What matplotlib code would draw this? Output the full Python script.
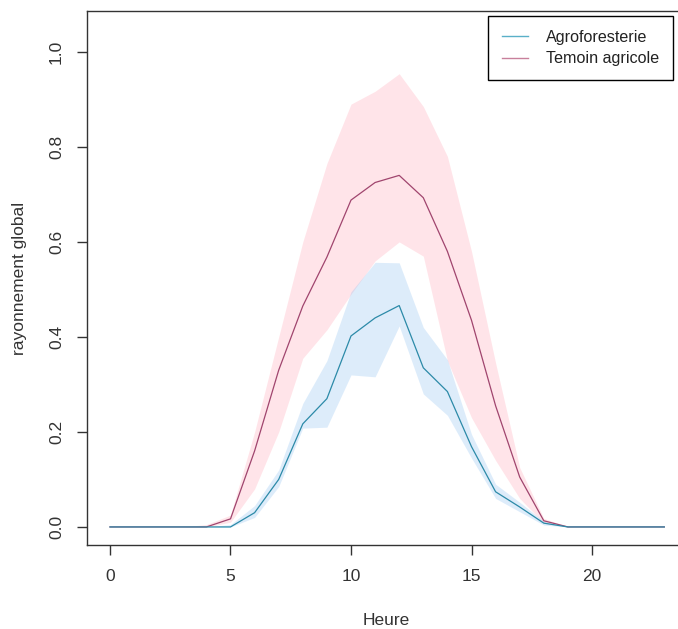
import matplotlib
matplotlib.use("Agg")
import matplotlib.pyplot as plt
import numpy as np
from matplotlib.lines import Line2D

hours = list(range(24))

agro_mean = [0, 0, 0, 0, 0, 0, 0.03, 0.10, 0.217, 0.27, 0.402, 0.44, 0.466, 0.335,
             0.285, 0.169, 0.074, 0.042, 0.008, 0, 0, 0, 0, 0]
agro_low = [0, 0, 0, 0, 0, 0, 0.02, 0.085, 0.208, 0.21, 0.32, 0.316, 0.423, 0.28,
            0.235, 0.145, 0.06, 0.032, 0.004, 0, 0, 0, 0, 0]
agro_high = [0, 0, 0, 0, 0, 0.005, 0.045, 0.12, 0.26, 0.35, 0.495, 0.557, 0.556, 0.42,
             0.352, 0.195, 0.09, 0.052, 0.012, 0, 0, 0, 0, 0]

temoin_mean = [0, 0, 0, 0, 0, 0.017, 0.16, 0.33, 0.465, 0.568, 0.688, 0.725, 0.74, 0.693,
               0.58, 0.435, 0.255, 0.105, 0.013, 0, 0, 0, 0, 0]
temoin_low = [0, 0, 0, 0, 0, 0.01, 0.08, 0.2, 0.355, 0.415, 0.49, 0.56, 0.60, 0.57,
              0.35, 0.23, 0.14, 0.06, 0.008, 0, 0, 0, 0, 0]
temoin_high = [0, 0, 0, 0, 0.005, 0.025, 0.2, 0.4, 0.6, 0.765, 0.89, 0.917, 0.954, 0.885,
               0.78, 0.58, 0.345, 0.125, 0.018, 0, 0, 0, 0, 0]

series_names = ["Agroforesterie", "Temoin agricole"]
xticks = [0, 5, 10, 15, 20]
yticks = [0.0, 0.2, 0.4, 0.6, 0.8, 1.0]

plt.rcParams['font.family'] = ['Liberation Sans', 'DejaVu Sans']

W, H = 678, 629
fig = plt.figure(figsize=(W / 100, H / 100), dpi=100)
left, right, top, bottom = 87, 686, 11, 545
ax = fig.add_axes([left / W, 1 - bottom / H, (right - left) / W, (bottom - top) / H])

blue_line = "#2c8aa8"
red_line = "#a0456e"

ax.fill_between(hours, temoin_low, temoin_high, color="#ffc0cb", alpha=0.42, lw=0)
ax.fill_between(hours, agro_low, agro_high, color="#87bdf0", alpha=0.28, lw=0)
ax.plot(hours, temoin_mean, color=red_line, lw=0.9)
ax.plot(hours, agro_mean, color=blue_line, lw=0.9)

ax.set_xlim(-0.954, 23.9)
ax.set_ylim(-0.038, 1.086)
ax.set_xticks(xticks)
ax.set_xticklabels([str(t) for t in xticks])
ax.set_yticks(yticks)
ax.set_yticklabels([f"{t:.1f}" for t in yticks], rotation=90, va='center')

fs = 12.5
for s in ax.spines.values():
    s.set_color("#333333")
    s.set_linewidth(1.0)
ax.tick_params(axis='both', direction='out', length=7, width=1, color="#333333",
               labelsize=fs, labelcolor="#333333")
ax.tick_params(axis='x', pad=10)
ax.tick_params(axis='y', pad=9.5)

ax.set_xlabel("Heure", fontsize=fs, color="#333333", labelpad=21)
ax.set_ylabel("rayonnement global", fontsize=fs, color="#333333", labelpad=16)

lfs = 11.6
handles = [Line2D([], [], color="#5ab0c8", lw=1), Line2D([], [], color="#c8809c", lw=1)]
leg = ax.legend(handles, series_names, loc='upper right',
                bbox_to_anchor=(673 / W, 1 - 16 / H), bbox_transform=fig.transFigure,
                borderaxespad=0, fancybox=False, framealpha=1, edgecolor="black",
                fontsize=lfs, handlelength=1.6, handletextpad=1.15, borderpad=0.85,
                labelspacing=0.4)
leg.get_frame().set_linewidth(1.0)
for t in leg.get_texts():
    t.set_color("#222222")

fig.savefig("out.png", dpi=100)
